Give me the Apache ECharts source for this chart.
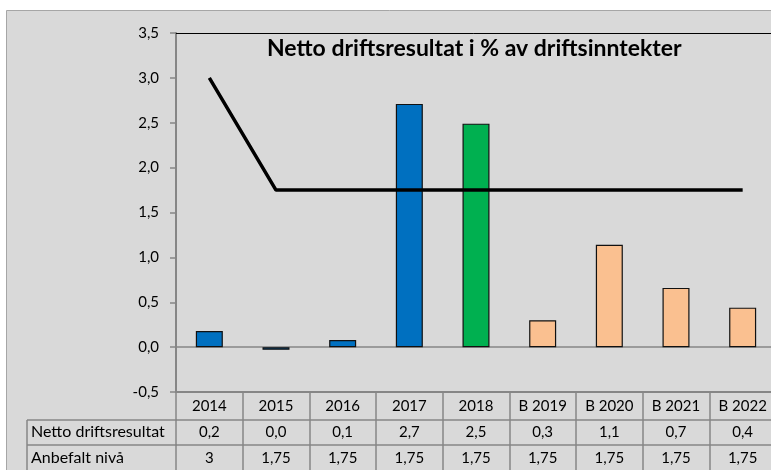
<!DOCTYPE html>
<html><head><meta charset="utf-8">
<script src="https://cdn.jsdelivr.net/npm/echarts@6/dist/echarts.min.js"></script>
<style>html,body{margin:0;padding:0;background:#fff}#c{width:771px;height:470px}</style>
</head><body><div id="c"></div>
<script>
const categories = ['2014','2015','2016','2017','2018','B 2019','B 2020','B 2021','B 2022'];
const nettoValues = [0.18, -0.03, 0.08, 2.71, 2.49, 0.3, 1.14, 0.66, 0.44];
const anbefaltValues = [3, 1.75, 1.75, 1.75, 1.75, 1.75, 1.75, 1.75, 1.75];
const rowLabels = ['Netto driftsresultat', 'Anbefalt nivå'];
const titleText = 'Netto driftsresultat i % av driftsinntekter';

const barColors = ['#0070C0','#0070C0','#0070C0','#0070C0','#00B050','#FAC090','#FAC090','#FAC090','#FAC090'];
const FONT = 'Lato';
const GRAY = '#868686';

function fmt1(v){ return (Math.round(v*10)/10).toFixed(1).replace('.', ','); }
function fmtRaw(v){ return String(v).replace('.', ','); }

const chart = echarts.init(document.getElementById('c'), null, {renderer:'canvas'});
const plotLeft = 176, plotTop = 33, plotBottomPx = 78;

chart.setOption({
  backgroundColor: '#ffffff',
  animation: false,
  title: {
    text: titleText, left: 262, top: 32,
    textStyle: {fontFamily: FONT, fontWeight: 'bold', fontSize: 23, color: '#000'}
  },
  grid: {left: plotLeft, top: plotTop, width: 600, bottom: plotBottomPx, containLabel: false, outerBoundsMode: 'none'},
  xAxis: [
    { type:'category', data: categories, position:'bottom',
      axisLine:{show:true, onZero:true, lineStyle:{color:GRAY, width:1.5}},
      axisTick:{show:false}, axisLabel:{show:false}, splitLine:{show:false} },
    { type:'category', data: categories, position:'bottom',
      axisLine:{show:true, onZero:false, lineStyle:{color:GRAY, width:2}},
      axisTick:{show:true, interval:0, length:78, lineStyle:{color:GRAY, width:1.5}},
      axisLabel:{show:true, interval:0, margin:7, fontFamily:FONT, fontSize:15, color:'#000'} },
    { type:'category', data: nettoValues.map(fmt1), position:'bottom', offset:28,
      axisLine:{show:true, onZero:false, lineStyle:{color:GRAY, width:1.5}},
      axisTick:{show:false},
      axisLabel:{show:true, interval:0, margin:5, fontFamily:FONT, fontSize:15, color:'#000'} },
    { type:'category', data: anbefaltValues.map(fmtRaw), position:'bottom', offset:53,
      axisLine:{show:true, onZero:false, lineStyle:{color:GRAY, width:1.5}},
      axisTick:{show:false},
      axisLabel:{show:true, interval:0, margin:6, fontFamily:FONT, fontSize:15, color:'#000'} },
    { type:'category', data: categories, position:'top',
      axisLine:{show:true, onZero:false, lineStyle:{color:'#000', width:1}},
      axisTick:{show:false}, axisLabel:{show:false} }
  ],
  yAxis: {
    type:'value', min:-0.5, max:3.5, interval:0.5,
    axisLine:{show:true, lineStyle:{color:GRAY, width:2}},
    axisTick:{show:true, length:6, lineStyle:{color:GRAY, width:1.5}},
    axisLabel:{margin:17, fontFamily:FONT, fontSize:15, color:'#000', formatter: v => v.toFixed(1).replace('.', ',')},
    splitLine:{show:false}
  },
  graphic: [
    {type:'rect', z:-100, shape:{x:6.5, y:10.5, width:800, height:500}, style:{fill:'#d9d9d9', stroke:'#a6a6a6', lineWidth:1}},
    {type:'line', shape:{x1:27, y1:420, x2:177, y2:420}, style:{stroke:GRAY, lineWidth:1.5}},
    {type:'line', shape:{x1:27, y1:445, x2:177, y2:445}, style:{stroke:GRAY, lineWidth:1.5}},
    {type:'line', shape:{x1:27, y1:420, x2:27, y2:470}, style:{stroke:GRAY, lineWidth:1.5}},
    {type:'text', left:31, top:424, style:{text: rowLabels[0], font:'16px Lato', fill:'#000'}},
    {type:'text', left:31, top:450, style:{text: rowLabels[1], font:'16px Lato', fill:'#000'}}
  ],
  series: [
    { type:'bar', xAxisIndex:0, barWidth:27,
      data: nettoValues.map((v,i)=>({value:v, itemStyle:{color:barColors[i]}})),
      itemStyle:{borderColor:'#111', borderWidth:1.2} },
    { type:'line', xAxisIndex:0, data: anbefaltValues, symbol:'none',
      lineStyle:{color:'#000', width:3.5} }
  ]
});
</script></body></html>
